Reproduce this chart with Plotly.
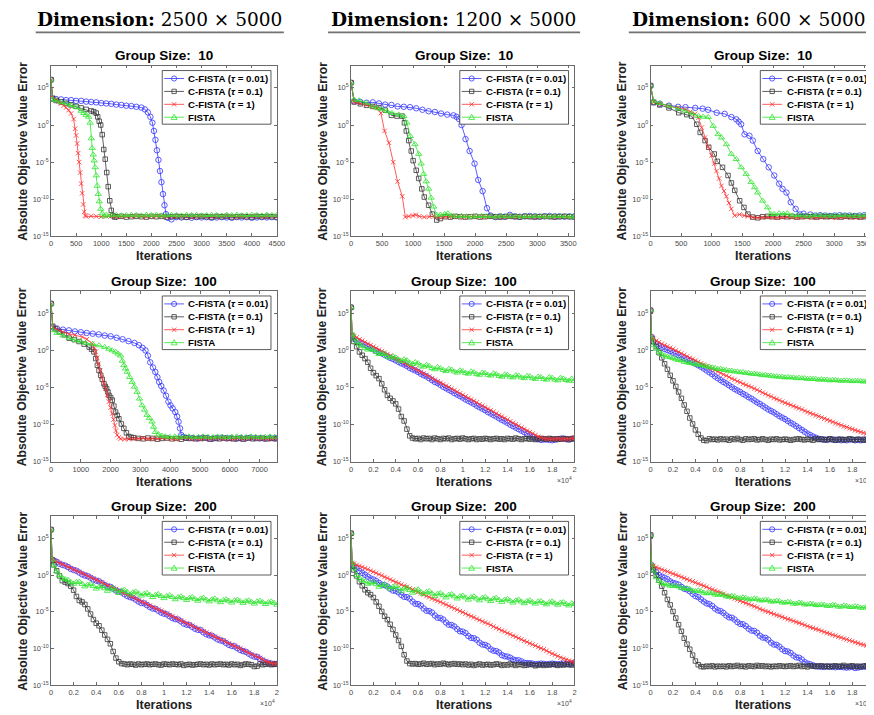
import plotly.graph_objects as go

# ---------------- data (log10 of absolute objective value error) ----------------
# shared iteration grid of the long (2e4) runs
iters_long = [0, 100,
              250, 500, 750, 1000, 1250, 1500, 1750, 2000, 2250, 2500,
              2750, 3000, 3250, 3500, 3750, 4000, 4250, 4500, 4750, 5000,
              5250, 5500, 5750, 6000, 6250, 6500, 6750, 7000, 7250, 7500,
              7750, 8000, 8250, 8500, 8750, 9000, 9250, 9500, 9750, 10000,
              10250, 10500, 10750, 11000, 11250, 11500, 11750, 12000, 12250, 12500,
              12750, 13000, 13250, 13500, 13750, 14000, 14250, 14500, 14750, 15000,
              15250, 15500, 15750, 16000, 16250, 16500, 16750, 17000, 17250, 17500,
              17750, 18000, 18250, 18500, 18750, 19000, 19250, 19500, 19750, 20000]

# ---- Dimension 2500x5000, group size 10
p11_blue_x = [0, 30, 100, 200, 300, 400, 500, 600, 700, 800, 900, 1000, 1100, 1200, 1300, 1400, 1500, 1600, 1700, 1800,
              1870, 1930, 1980, 2020, 2050, 2080, 2110, 2140, 2170, 2200, 2230, 2260, 2290, 2330,
              2400, 2500, 2600, 2700, 2800, 2900, 3000, 3100, 3200, 3300, 3400, 3500, 3600, 3700, 3800, 3900, 4000, 4100, 4200, 4300, 4400, 4500]
p11_blue_y = [6.1, 3.6, 3.5, 3.45, 3.35, 3.35, 3.25, 3.25, 3.15, 3.1, 3.05, 2.95, 2.9, 2.85, 2.75, 2.7, 2.6, 2.55, 2.45, 2.35,
              2.1, 1.7, 1.1, 0.3, -0.8, -2.0, -3.4, -4.7, -6.2, -7.7, -9.3, -10.8, -12.0, -12.5,
              -12.7, -12.4, -12.45, -12.4, -12.5, -12.4, -12.45, -12.4, -12.5, -12.45, -12.4, -12.45, -12.5, -12.4, -12.45, -12.4, -12.5, -12.45, -12.4, -12.45, -12.4, -12.45]
p11_gray_x = [0, 30, 100, 200, 300, 400, 500, 600, 700, 800, 850, 900, 930, 960, 990, 1020, 1050, 1080, 1110, 1140, 1170, 1200, 1230, 1270,
              1300, 1400, 1500, 1600, 1700, 1800, 1900, 2000, 2100, 2200, 2300, 2400, 2500, 2600, 2700, 2800, 2900, 3000, 3100, 3200, 3300,
              3400, 3500, 3600, 3700, 3800, 3900, 4000, 4100, 4200, 4300, 4400, 4500]
p11_gray_y = [6.1, 3.5, 3.3, 3.1, 2.9, 2.7, 2.5, 2.3, 2.1, 1.9, 1.8, 1.6, 1.1, 0.5, 0.0, -1.3, -3.3, -4.6, -6.4, -8.3, -10.2, -11.5, -12.2, -12.4,
              -12.35, -12.3, -12.4, -12.35, -12.3, -12.35, -12.4, -12.3, -12.35, -12.3, -12.4, -12.35, -12.3, -12.35, -12.4, -12.3, -12.35, -12.3, -12.35, -12.4, -12.3,
              -12.35, -12.3, -12.4, -12.35, -12.3, -12.35, -12.4, -12.3, -12.35, -12.3, -12.35, -12.4]
p11_red_x = [0, 30, 100, 150, 200, 250, 300, 350, 400, 450, 480, 500, 520, 540, 560, 580, 600, 620, 640, 660, 680, 700,
             800, 900, 1000, 1100, 1200, 1300, 1400, 1500, 1600, 1700, 1800, 1900, 2000, 2100, 2200, 2300, 2400, 2500, 2600,
             2700, 2800, 2900, 3000, 3100, 3200, 3300, 3400, 3500, 3600, 3700, 3800, 3900, 4000, 4100, 4200, 4300, 4400, 4500]
p11_red_y = [6.1, 3.7, 3.4, 3.15, 2.9, 2.6, 2.35, 2.0, 1.55, 0.8, -0.5, -1.4, -2.5, -3.8, -5.0, -6.4, -7.9, -9.2, -10.7, -11.7, -12.2, -12.3,
             -12.25, -12.3, -12.35, -12.3, -12.25, -12.3, -12.35, -12.3, -12.3, -12.25, -12.3, -12.35, -12.3, -12.25, -12.3,
             -12.35, -12.3, -12.3, -12.25, -12.3, -12.35, -12.3, -12.25, -12.3, -12.3, -12.35, -12.3, -12.25, -12.3, -12.35,
             -12.3, -12.3, -12.25, -12.3, -12.35, -12.3, -12.25, -12.3]
p11_green_x = [0, 30, 100, 200, 300, 400, 500, 600, 650, 700, 750, 780, 800, 820, 840, 860, 880, 900, 920, 940, 960, 990, 1020, 1060, 1100,
               1200, 1300, 1400, 1500, 1600, 1700, 1800, 1900, 2000, 2100, 2200, 2300, 2400, 2500, 2600, 2700, 2800, 2900, 3000,
               3100, 3200, 3300, 3400, 3500, 3600, 3700, 3800, 3900, 4000, 4100, 4200, 4300, 4400, 4500]
p11_green_y = [6.1, 3.4, 3.3, 3.1, 2.9, 2.65, 2.4, 1.9, 1.6, 1.35, 1.1, 0.3, -1.8, -3.1, -4.0, -4.8, -5.7, -6.8, -8.2, -9.3, -10.3, -11.3, -11.9, -12.3, -12.1,
               -12.15, -12.1, -12.2, -12.15, -12.1, -12.15, -12.2, -12.1, -12.15, -12.1, -12.2, -12.15, -12.1, -12.15, -12.2,
               -12.1, -12.15, -12.1, -12.2, -12.15, -12.1, -12.15, -12.2, -12.1, -12.15, -12.1, -12.2, -12.15, -12.1, -12.15,
               -12.2, -12.1, -12.15, -12.1]

# ---- Dimension 1200x5000, group size 10
p12_blue_x = [0, 50, 150, 250, 350, 450, 550, 650, 750, 850, 950, 1050, 1150, 1250, 1350, 1450, 1550, 1650,
              1700, 1740, 1780, 1845, 1910, 1990, 2050, 2120, 2190, 2250, 2330,
              2400, 2480, 2560, 2640, 2720, 2800, 2880, 2960, 3040, 3120, 3200, 3280, 3360, 3440, 3520, 3600]
p12_blue_y = [5.7, 3.2, 3.1, 3.0, 3.05, 2.9, 2.75, 2.7, 2.5, 2.45, 2.4, 2.25, 2.05, 1.85, 1.75, 1.55, 1.4, 1.3,
              1.1, 0.8, 0.0, -1.9, -3.5, -5.2, -7.4, -8.9, -11.2, -12.2, -12.4,
              -12.3, -12.35, -12.1, -12.3, -12.35, -12.3, -12.25, -12.3, -12.35, -12.3, -12.25, -12.3, -12.3, -12.35, -12.3, -12.3]
p12_gray_x = [0, 50, 150, 250, 350, 450, 550, 650, 740, 820, 860, 890, 930, 970, 1000, 1050, 1090, 1140, 1180, 1250, 1310, 1380,
              1440, 1520, 1600, 1680, 1760, 1840, 1920, 2000, 2080, 2160, 2240, 2320, 2400, 2480, 2560, 2640, 2720, 2800,
              2880, 2960, 3040, 3120, 3200, 3280, 3360, 3440, 3520, 3600]
p12_gray_y = [5.7, 3.1, 2.85, 2.65, 2.5, 2.35, 2.0, 1.3, 1.2, 1.2, 0.3, -0.8, -2.1, -3.5, -4.8, -6.1, -7.2, -8.6, -9.7, -10.8, -12.0, -12.8,
              -12.6, -12.35, -12.4, -12.3, -12.35, -12.4, -12.35, -12.3, -12.4, -12.35, -12.3, -12.35, -12.4, -12.35, -12.3, -12.35, -12.4, -12.3,
              -12.35, -12.4, -12.35, -12.3, -12.35, -12.4, -12.35, -12.3, -12.35, -12.4]
p12_red_x = [0, 50, 150, 250, 350, 420, 480, 540, 610, 680, 750, 825, 875, 930, 1000, 1040, 1100, 1180,
             1260, 1340, 1420, 1500, 1580, 1660, 1740, 1820, 1900, 1980, 2060, 2140, 2220, 2300, 2380, 2460, 2540, 2620,
             2700, 2780, 2860, 2940, 3020, 3100, 3180, 3260, 3340, 3420, 3500, 3580]
p12_red_y = [5.7, 3.1, 2.9, 2.7, 2.5, 2.3, 1.6, -0.8, -2.4, -5.0, -7.6, -9.6, -12.4, -12.3, -12.2, -12.1, -12.3, -12.4,
             -12.35, -12.3, -12.4, -12.35, -12.4, -12.3, -12.35, -12.4, -12.35, -12.3, -12.4, -12.35, -12.3, -12.35, -12.4, -12.35, -12.3, -12.4,
             -12.35, -12.3, -12.35, -12.4, -12.35, -12.3, -12.35, -12.4, -12.35, -12.3, -12.35, -12.4]
p12_green_x = [0, 50, 130, 240, 345, 420, 500, 580, 660, 770, 850, 900, 955, 1030, 1090, 1130, 1170, 1210, 1250, 1290, 1330, 1380, 1440, 1510, 1560, 1620,
               1700, 1780, 1860, 1940, 2020, 2100, 2180, 2260, 2340, 2420, 2500, 2580, 2660, 2740, 2820, 2900, 2980, 3060, 3140, 3220,
               3300, 3380, 3460, 3540, 3600]
p12_green_y = [5.7, 3.4, 3.3, 3.0, 2.5, 2.3, 2.1, 1.85, 1.6, 1.4, 1.2, 0.3, -1.5, -2.6, -3.9, -5.2, -6.6, -7.6, -8.6, -9.8, -11.0, -12.1, -12.1, -12.0, -11.9, -12.2,
               -12.3, -12.25, -12.3, -12.35, -12.3, -12.25, -12.3, -12.3, -12.35, -12.25, -12.3, -12.3, -12.25, -12.35, -12.3, -12.3, -12.25, -12.3, -12.35, -12.3,
               -12.25, -12.3, -12.3, -12.35, -12.3]

# ---- Dimension 600x5000, group size 10
p13_blue_x = [0, 50, 150, 300, 450, 570, 730, 850, 940, 1080, 1210, 1320, 1400, 1440, 1480, 1535, 1615, 1670, 1750, 1840,
              1930, 2020, 2100, 2155, 2220, 2290, 2370, 2440, 2500, 2610,
              2690, 2770, 2850, 2930, 3010, 3090, 3170, 3250, 3330, 3410, 3490, 3570, 3650]
p13_blue_y = [5.3, 3.1, 2.85, 2.6, 2.45, 2.4, 2.3, 2.2, 2.05, 1.65, 1.5, 1.07, 0.76, 0.45, 0.1, -1.25, -1.45, -2.1, -3.5, -4.6,
              -5.7, -6.8, -7.9, -8.6, -9.1, -10.4, -11.3, -12.05, -11.95, -12.05,
              -12.2, -12.15, -12.2, -12.25, -12.2, -12.15, -12.2, -12.2, -12.25, -12.2, -12.15, -12.2, -12.2]
p13_gray_x = [0, 50, 150, 300, 460, 590, 670, 755, 810, 890, 950, 1040, 1090, 1175, 1265, 1320, 1375, 1455, 1525, 1590, 1670,
              1750, 1830, 1910, 1990, 2070, 2150, 2230, 2310, 2390, 2470, 2550, 2630, 2710, 2790, 2870, 2950, 3030, 3110, 3190, 3270,
              3350, 3430, 3510, 3590, 3650]
p13_gray_y = [5.3, 3.0, 2.7, 2.3, 1.65, 1.4, 1.2, 0.1, -1.0, -2.1, -3.0, -3.9, -4.9, -5.7, -6.8, -7.8, -8.8, -10.2, -11.1, -12.0, -12.4,
              -12.5, -12.35, -12.3, -12.35, -12.4, -12.3, -12.35, -12.3, -12.4, -12.35, -12.3, -12.35, -12.4, -12.3, -12.35, -12.3, -12.35, -12.4, -12.3, -12.35,
              -12.3, -12.4, -12.35, -12.3, -12.35]
p13_red_x = [0, 50, 150, 300, 450, 565, 650, 727, 781, 835, 888, 942, 996, 1040, 1077, 1120, 1158, 1200, 1239, 1280, 1319, 1373, 1454, 1530, 1590,
             1670, 1750, 1830, 1910, 1990, 2070, 2150, 2230, 2310, 2390, 2470, 2550, 2630, 2710, 2790, 2870, 2950, 3030, 3110, 3190,
             3270, 3350, 3430, 3510, 3590, 3650]
p13_red_y = [5.3, 3.1, 2.85, 2.6, 2.35, 2.1, 1.8, 1.5, 1.0, -0.35, -1.7, -2.95, -4.1, -5.2, -6.2, -7.2, -8.2, -8.9, -9.6, -10.5, -11.3, -12.2, -12.05, -12.2, -12.3,
             -12.45, -12.5, -12.45, -12.4, -12.45, -12.5, -12.45, -12.4, -12.45, -12.5, -12.45, -12.4, -12.45, -12.5, -12.45,
             -12.4, -12.45, -12.5, -12.45, -12.4, -12.45, -12.5, -12.45, -12.4, -12.45, -12.5]
p13_green_x = [0, 50, 150, 300, 450, 565, 680, 780, 860, 942, 1023, 1104, 1158, 1239, 1319, 1400, 1481, 1562, 1642, 1700,
               1750, 1831, 1912, 1966, 2019, 2100, 2170, 2235,
               2315, 2395, 2475, 2555, 2635, 2715, 2795, 2875, 2955, 3035, 3115, 3195, 3275, 3355, 3435, 3515, 3595, 3650]
p13_green_y = [5.3, 3.2, 2.95, 2.6, 2.2, 1.9, 1.55, 1.2, 1.1, 1.07, -0.13, -1.25, -1.7, -2.6, -3.9, -4.6, -5.7, -6.6, -7.7, -8.4,
               -9.1, -10.2, -11.1, -12.0, -12.0, -11.9, -11.95, -11.9,
               -12.2, -12.15, -12.2, -12.25, -12.2, -12.15, -12.2, -12.2, -12.25, -12.2, -12.15, -12.2, -12.2, -12.25, -12.2, -12.15, -12.2, -12.2]

# ---- Dimension 2500x5000, group size 100
p21_blue_x = [0, 60, 200, 400, 600, 800, 1000, 1200, 1400, 1600, 1800, 2000, 2200, 2400, 2600, 2800,
              2950, 3070, 3170, 3250, 3330, 3420, 3500, 3570, 3630, 3700, 3780, 3860, 3940, 4010, 4080, 4170, 4230,
              4280, 4330, 4370, 4440, 4520, 4610,
              4770, 4930, 5090, 5250, 5410, 5570, 5730, 5890, 6050, 6210, 6370, 6530, 6690, 6850, 7010, 7170, 7330, 7490, 7580]
p21_blue_y = [6.3, 3.1, 2.95, 2.8, 2.7, 2.55, 2.45, 2.35, 2.25, 2.15, 2.0, 1.9, 1.7, 1.5, 1.25, 1.0,
              0.7, 0.35, 0.0, -0.7, -1.6, -2.3, -2.9, -3.6, -4.25, -4.8, -5.4, -6.1, -6.9, -7.4, -7.8, -8.3, -8.9,
              -9.6, -10.5, -11.4, -11.65, -11.75, -11.8,
              -11.8, -11.85, -11.75, -11.8, -11.9, -11.8, -11.75, -11.85, -11.8, -11.9, -11.8, -11.85, -11.75, -11.8, -11.85, -11.9, -11.8, -11.85, -11.8]
p21_gray_x = [0, 60, 150, 280, 450, 610, 780, 940, 1110, 1280, 1360, 1440, 1500, 1555, 1610, 1666, 1720, 1778, 1820, 1866,
              1910, 1944, 2000, 2055, 2110, 2166, 2220, 2278, 2360, 2444, 2530, 2611, 2690, 2777,
              2930, 3090, 3250, 3410, 3570, 3730, 3890, 4050, 4210, 4370, 4530, 4690, 4850, 5010, 5170, 5330, 5490, 5650,
              5810, 5970, 6130, 6290, 6450, 6610, 6770, 6930, 7090, 7250, 7410, 7570]
p21_gray_y = [6.3, 3.25, 2.9, 2.5, 2.1, 1.65, 1.45, 1.2, 0.85, 0.45, 0.15, -0.2, -1.1, -2.0, -2.7, -3.35, -3.9, -4.5, -4.85, -5.15,
              -5.6, -6.05, -6.35, -6.7, -7.5, -8.3, -8.75, -9.2, -9.9, -10.5, -11.1, -11.6, -11.7, -11.75,
              -11.85, -11.9, -11.8, -11.85, -11.95, -11.85, -11.8, -11.9, -11.85, -11.95, -11.8, -11.85, -11.9, -11.85, -11.8,
              -11.95, -11.85, -11.9, -11.8, -11.85, -11.9, -11.85, -11.95, -11.8, -11.9, -11.85, -11.8, -11.9, -11.85, -11.9]
p21_red_x = [0, 60, 200, 400, 611, 800, 1055, 1200, 1389, 1450, 1500, 1545, 1589, 1645, 1700, 1770, 1833, 1890, 1944, 2000,
             2055, 2100, 2144, 2180, 2222, 2280, 2333, 2470, 2611,
             2770, 2930, 3090, 3250, 3410, 3570, 3730, 3890, 4050, 4210, 4370, 4530, 4690, 4850, 5010, 5170, 5330, 5490, 5650,
             5810, 5970, 6130, 6290, 6450, 6610, 6770, 6930, 7090, 7250, 7410, 7570]
p21_red_y = [6.3, 3.1, 2.8, 2.5, 2.2, 2.05, 1.8, 1.5, 0.9, 0.4, -0.2, -1.0, -1.8, -2.7, -3.6, -4.4, -5.15, -6.0, -6.9, -7.7,
             -8.5, -9.3, -10.1, -10.8, -11.4, -11.7, -11.9, -11.95, -11.95,
             -11.85, -11.9, -11.8, -11.95, -11.85, -11.9, -11.8, -11.85, -11.9, -11.95, -11.85, -11.8, -11.9, -11.85, -11.95, -11.8,
             -11.9, -11.85, -11.8, -11.9, -11.85, -11.95, -11.8, -11.9, -11.85, -11.8, -11.9, -11.85, -11.95, -11.85, -11.9]
p21_green_x = [0, 60, 200, 400, 611, 800, 1000, 1166, 1400, 1611, 1800, 1944, 2050, 2166, 2250, 2333, 2390, 2444, 2500, 2555,
               2640, 2722, 2800, 2889, 2970, 3055, 3140, 3222, 3300, 3389, 3440, 3500, 3611, 3720, 3833,
               3990, 4150, 4310, 4470, 4630, 4790, 4950, 5110, 5270, 5430, 5590, 5750, 5910, 6070, 6230, 6390, 6550, 6710,
               6870, 7030, 7190, 7350, 7510]
p21_green_y = [6.3, 2.7, 2.35, 2.0, 1.65, 1.4, 1.2, 1.0, 0.85, 0.67, 0.45, 0.2, 0.0, -0.2, -0.45, -0.7, -1.4, -2.0, -2.45, -2.9,
               -3.6, -4.25, -4.9, -5.6, -6.5, -7.4, -8.0, -8.7, -9.1, -9.6, -10.3, -11.0, -11.3, -11.5, -11.6,
               -11.65, -11.6, -11.7, -11.65, -11.6, -11.7, -11.65, -11.6, -11.65, -11.7, -11.6, -11.65, -11.7, -11.65, -11.6,
               -11.65, -11.7, -11.6, -11.65, -11.7, -11.65, -11.6, -11.65]

# ---- Dimension 1200x5000, group size 100 (all on iters_long)
p22_blue = [5.8, 2.0,
            1.6, 1.3, 1.1, 0.9, 0.7, 0.55, 0.3, 0.15, -0.05, -0.25,
            -0.4, -0.6, -0.8, -1.0, -1.15, -1.35, -1.55, -1.75, -1.9, -2.1,
            -2.35, -2.55, -2.7, -2.9, -3.15, -3.35, -3.5, -3.75, -4.0, -4.25,
            -4.4, -4.65, -4.9, -5.1, -5.3, -5.5, -5.75, -5.95, -6.15, -6.35,
            -6.6, -6.8, -7.0, -7.2, -7.45, -7.65, -7.85, -8.05, -8.3, -8.5,
            -8.7, -8.9, -9.15, -9.35, -9.55, -9.75, -10.0, -10.2, -10.4, -10.6,
            -10.8, -11.0, -11.25, -11.45, -11.65, -11.85, -11.95, -12.05, -12.0, -12.0,
            -12.05, -12.1, -12.0, -11.95, -11.9, -11.9, -11.95, -12.0, -11.9, -11.85]
p22_gray = [5.8, 1.8,
            1.2, 0.5, -0.2, -0.65, -1.1, -1.6, -2.4, -3.0, -3.4, -3.8,
            -4.5, -5.3, -6.05, -6.45, -6.8, -7.2, -7.9, -8.9, -9.5, -10.6,
            -11.5, -11.8, -11.9, -11.85, -12.0, -11.8, -11.9, -11.85, -12.0, -11.8,
            -11.9, -12.0, -11.85, -11.9, -11.8, -12.0, -11.9, -11.85, -11.95, -11.8,
            -11.9, -12.0, -11.9, -11.85, -12.0, -11.9, -11.95, -11.85, -11.9, -12.0,
            -11.9, -11.85, -11.95, -11.9, -12.0, -11.85, -11.9, -11.95, -11.8, -11.9,
            -12.0, -11.9, -11.85, -11.95, -11.9, -12.0, -11.9, -11.85, -11.9, -11.95,
            -11.85, -11.9, -12.0, -11.9, -11.95, -11.85, -11.9, -12.0, -11.9, -11.85]
p22_red = [5.8, 2.1,
           1.95, 1.75, 1.5, 1.3, 1.1, 0.9, 0.7, 0.5, 0.3, 0.1,
           -0.1, -0.3, -0.5, -0.7, -0.9, -1.1, -1.3, -1.5, -1.7, -1.9,
           -2.1, -2.3, -2.5, -2.7, -2.9, -3.1, -3.3, -3.5, -3.75, -3.95,
           -4.15, -4.35, -4.55, -4.75, -4.95, -5.15, -5.35, -5.55, -5.8, -6.0,
           -6.2, -6.4, -6.6, -6.8, -7.0, -7.25, -7.45, -7.65, -7.85, -8.05,
           -8.25, -8.5, -8.7, -8.9, -9.1, -9.3, -9.55, -9.75, -9.95, -10.15,
           -10.4, -10.6, -10.8, -11.0, -11.2, -11.4, -11.6, -11.75, -11.85, -11.9,
           -11.95, -11.95, -11.9, -11.9, -11.95, -12.0, -11.95, -11.9, -11.85, -11.8]
p22_green = [5.8, 2.2,
             1.6, 1.1, 0.8, 0.6, 0.3, 0.1, 0.2, 0.05, -0.25, -0.5,
             -0.35, -0.5, -0.8, -1.0, -0.8, -0.95, -1.25, -1.45, -1.2, -1.35,
             -1.65, -1.85, -1.6, -1.75, -2.05, -2.2, -1.95, -2.1, -2.4, -2.55,
             -2.25, -2.4, -2.65, -2.8, -2.5, -2.6, -2.85, -3.0, -2.7, -2.8,
             -3.05, -3.15, -2.85, -2.95, -3.2, -3.3, -3.0, -3.05, -3.3, -3.4,
             -3.1, -3.2, -3.45, -3.55, -3.25, -3.3, -3.55, -3.65, -3.35, -3.4,
             -3.65, -3.75, -3.45, -3.5, -3.75, -3.85, -3.55, -3.6, -3.85, -3.95,
             -3.6, -3.7, -3.95, -4.05, -3.7, -3.8, -4.0, -4.1, -3.8, -4.1]

# ---- Dimension 600x5000, group size 100
p23_blue = [5.4, 1.8,
            1.2, 0.85, 0.6, 0.4, 0.2, 0.05, -0.1, -0.3, -0.45, -0.65,
            -0.85, -1.05, -1.2, -1.4, -1.6, -1.8, -2.0, -2.2, -2.45, -2.7,
            -2.95, -3.2, -3.5, -3.75, -4.0, -4.25, -4.45, -4.7, -4.95, -5.2,
            -5.4, -5.6, -5.85, -6.05, -6.3, -6.5, -6.75, -7.0, -7.2, -7.45,
            -7.7, -7.95, -8.15, -8.35, -8.6, -8.85, -9.05, -9.25, -9.5, -9.75,
            -9.95, -10.2, -10.45, -10.7, -10.95, -11.2, -11.4, -11.6, -11.75, -11.9,
            -11.95, -12.0, -12.05, -11.95, -12.0, -12.05, -12.0, -12.1, -12.05, -12.1,
            -12.0, -12.0, -12.1, -12.05, -12.1, -12.0, -12.0, -12.05, -12.1, -12.0]
p23_gray = [5.4, 1.6,
            1.2, 0.5, -0.3, -1.0, -1.8, -2.55, -3.35, -4.1, -4.85, -5.6,
            -6.45, -7.35, -8.2, -9.1, -9.9, -10.7, -11.3, -11.8, -12.1, -12.15,
            -11.9, -12.0, -11.95, -12.05, -11.9, -12.0, -11.95, -12.1, -11.9, -12.0,
            -11.85, -12.0, -12.1, -11.9, -12.0, -11.95, -11.9, -12.05, -12.0, -11.9,
            -12.0, -12.1, -11.95, -12.0, -11.9, -12.05, -12.0, -11.95, -12.0, -12.1,
            -12.0, -11.95, -11.9, -12.0, -12.05, -11.95, -12.0, -12.1, -11.9, -12.0,
            -11.95, -12.05, -12.0, -11.9, -12.0, -12.1, -12.0, -11.95, -12.05, -12.0,
            -11.9, -12.0, -12.05, -11.95, -12.0, -12.1, -12.0, -11.95, -12.0, -12.05]
p23_red = [5.4, 1.8,
           1.55, 1.3, 1.1, 0.9, 0.7, 0.55, 0.35, 0.2, 0.0, -0.2,
           -0.4, -0.6, -0.8, -1.0, -1.15, -1.35, -1.55, -1.75, -1.9, -2.1,
           -2.3, -2.5, -2.65, -2.85, -3.05, -3.25, -3.4, -3.6, -3.8, -3.95,
           -4.15, -4.3, -4.5, -4.65, -4.8, -4.95, -5.15, -5.3, -5.5, -5.7,
           -5.85, -6.05, -6.2, -6.4, -6.55, -6.7, -6.9, -7.05, -7.2, -7.35,
           -7.5, -7.65, -7.8, -7.95, -8.15, -8.3, -8.45, -8.6, -8.75, -8.9,
           -9.05, -9.2, -9.35, -9.5, -9.65, -9.8, -9.95, -10.1, -10.25, -10.35,
           -10.5, -10.6, -10.75, -10.85, -11.0, -11.1, -11.2, -11.3, -11.4, -11.5]
p23_green = [5.4, 1.6,
             0.7, 0.2, -0.2, -0.5, -0.7, -0.85, -0.9, -1.05, -1.2, -1.3,
             -1.35, -1.55, -1.6, -1.7, -1.75, -1.85, -1.9, -2.0, -2.05, -2.15,
             -2.2, -2.3, -2.35, -2.5, -2.5, -2.6, -2.65, -2.75, -2.75, -2.85,
             -2.85, -2.95, -2.95, -3.05, -3.05, -3.15, -3.15, -3.2, -3.25, -3.35,
             -3.3, -3.4, -3.4, -3.5, -3.5, -3.55, -3.55, -3.65, -3.6, -3.65,
             -3.65, -3.75, -3.7, -3.75, -3.75, -3.85, -3.8, -3.85, -3.85, -3.95,
             -3.9, -3.95, -3.95, -4.05, -4.0, -4.0, -4.05, -4.1, -4.05, -4.05,
             -4.1, -4.15, -4.1, -4.1, -4.15, -4.2, -4.15, -4.15, -4.2, -4.25]

# ---- Dimension 2500x5000, group size 200
p31_blue = [6.2, 2.1,
            2.0, 1.8, 1.55, 1.4, 1.3, 1.1, 0.85, 0.7, 0.6, 0.35,
            0.1, -0.05, -0.15, -0.35, -0.6, -0.75, -0.85, -1.1, -1.35, -1.55,
            -1.6, -1.85, -2.1, -2.25, -2.35, -2.6, -2.85, -3.0, -3.1, -3.35,
            -3.6, -3.8, -3.85, -4.1, -4.35, -4.55, -4.6, -4.85, -5.1, -5.25,
            -5.35, -5.6, -5.85, -6.0, -6.05, -6.3, -6.6, -6.75, -6.8, -7.05,
            -7.3, -7.45, -7.5, -7.8, -8.05, -8.2, -8.25, -8.5, -8.75, -8.9,
            -9.0, -9.25, -9.5, -9.65, -9.7, -9.95, -10.2, -10.35, -10.45, -10.7,
            -10.95, -11.1, -11.15, -11.4, -11.65, -11.85, -11.95, -12.05, -12.1, -12.1]
p31_gray = [6.2, 2.0,
            1.4, 0.6, -0.1, -0.75, -0.95, -1.15, -1.5, -2.05, -2.9, -3.45,
            -3.65, -4.0, -4.6, -5.3, -6.05, -6.55, -6.9, -7.5, -8.15, -8.75,
            -9.35, -10.4, -11.3, -11.8, -12.05, -12.1, -12.2, -12.1, -12.15, -12.25,
            -12.1, -12.2, -12.15, -12.1, -12.2, -12.15, -12.1, -12.2, -12.25, -12.1,
            -12.15, -12.2, -12.1, -12.15, -12.2, -12.1, -12.3, -12.2, -12.15, -12.25,
            -12.2, -12.15, -12.1, -12.2, -12.15, -12.25, -12.1, -12.2, -12.15, -12.1,
            -12.2, -12.15, -12.25, -12.1, -12.2, -12.15, -12.3, -12.2, -12.1, -12.15,
            -12.2, -12.45, -12.4, -12.1, -12.2, -12.15, -12.1, -12.2, -12.15, -12.1]
p31_red = [6.2, 2.15,
           2.0, 1.85, 1.65, 1.5, 1.3, 1.15, 0.95, 0.8, 0.6, 0.45,
           0.25, 0.1, -0.1, -0.3, -0.45, -0.65, -0.8, -1.0, -1.2, -1.4,
           -1.55, -1.75, -1.9, -2.1, -2.3, -2.5, -2.65, -2.85, -3.0, -3.2,
           -3.4, -3.6, -3.75, -3.95, -4.15, -4.35, -4.5, -4.7, -4.85, -5.05,
           -5.25, -5.45, -5.6, -5.8, -6.0, -6.2, -6.35, -6.55, -6.7, -6.9,
           -7.1, -7.3, -7.45, -7.65, -7.8, -8.0, -8.2, -8.4, -8.55, -8.75,
           -8.9, -9.1, -9.3, -9.5, -9.65, -9.85, -10.0, -10.2, -10.4, -10.6,
           -10.75, -10.95, -11.1, -11.3, -11.5, -11.7, -11.85, -12.0, -12.05, -12.05]
p31_green = [6.2, 2.1,
             1.3, 0.5, 0.0, -0.35, -0.55, -0.65, -0.95, -1.2, -0.95, -0.9,
             -1.2, -1.55, -1.3, -1.2, -1.5, -1.85, -1.6, -1.5, -1.8, -2.15,
             -1.85, -1.75, -2.1, -2.45, -2.1, -2.0, -2.3, -2.65, -2.35, -2.25,
             -2.5, -2.8, -2.55, -2.45, -2.7, -3.0, -2.7, -2.6, -2.85, -3.15,
             -2.85, -2.75, -3.0, -3.3, -3.0, -2.9, -3.15, -3.4, -3.1, -3.0,
             -3.25, -3.5, -3.2, -3.1, -3.35, -3.6, -3.3, -3.2, -3.45, -3.7,
             -3.4, -3.3, -3.5, -3.75, -3.45, -3.35, -3.55, -3.8, -3.55, -3.45,
             -3.65, -3.9, -3.6, -3.5, -3.7, -3.95, -3.7, -3.6, -3.8, -4.05]

# ---- Dimension 1200x5000, group size 200
p32_blue = [5.7, 1.45,
            1.2, 0.9, 0.55, 0.3, 0.05, -0.2, -0.45, -0.6, -0.8, -1.05,
            -1.3, -1.35, -1.55, -1.85, -2.1, -2.15, -2.35, -2.7, -2.95, -3.0,
            -3.2, -3.6, -3.9, -3.95, -4.15, -4.55, -4.85, -4.9, -5.1, -5.5,
            -5.8, -5.85, -6.05, -6.45, -6.75, -6.8, -7.0, -7.35, -7.65, -7.7,
            -7.9, -8.3, -8.55, -8.6, -8.8, -9.2, -9.45, -9.5, -9.7, -10.1,
            -10.3, -10.35, -10.55, -10.9, -11.05, -11.1, -11.25, -11.5, -11.6, -11.6,
            -11.75, -11.95, -12.0, -12.0, -12.05, -12.15, -12.1, -12.05, -12.1, -12.15,
            -12.1, -12.05, -12.1, -12.15, -12.1, -12.05, -12.1, -12.1, -12.05, -12.0]
p32_gray = [5.7, 1.2,
            0.7, -0.1, -0.9, -1.45, -2.0, -2.4, -2.65, -3.05, -3.65, -4.25,
            -4.95, -5.6, -6.05, -6.7, -7.4, -8.15, -8.9, -9.7, -10.85, -11.7,
            -12.05, -12.1, -12.05, -12.15, -12.1, -12.0, -12.15, -12.1, -12.05, -12.2,
            -12.1, -12.15, -12.0, -12.1, -12.2, -12.1, -12.05, -12.15, -12.1, -12.2,
            -12.1, -12.25, -12.15, -12.3, -12.2, -12.1, -12.25, -12.2, -12.15, -12.25,
            -12.2, -12.1, -12.15, -12.3, -12.2, -12.25, -12.1, -12.2, -12.3, -12.15,
            -12.2, -12.3, -12.25, -12.15, -12.2, -12.35, -12.25, -12.2, -12.3, -12.2,
            -12.25, -12.15, -12.2, -12.3, -12.2, -12.25, -12.15, -12.2, -12.25, -12.1]
p32_red = [5.7, 1.65,
           1.55, 1.4, 1.25, 1.1, 0.95, 0.8, 0.6, 0.45, 0.3, 0.1,
           -0.05, -0.25, -0.4, -0.6, -0.75, -0.95, -1.1, -1.3, -1.45, -1.6,
           -1.8, -1.95, -2.15, -2.3, -2.5, -2.65, -2.85, -3.0, -3.2, -3.35,
           -3.5, -3.65, -3.85, -4.0, -4.2, -4.35, -4.55, -4.7, -4.9, -5.05,
           -5.25, -5.45, -5.6, -5.75, -5.95, -6.1, -6.3, -6.45, -6.6, -6.8,
           -7.0, -7.2, -7.35, -7.55, -7.7, -7.9, -8.05, -8.25, -8.4, -8.6,
           -8.75, -8.95, -9.1, -9.3, -9.45, -9.6, -9.8, -9.95, -10.1, -10.3,
           -10.5, -10.7, -10.85, -11.05, -11.25, -11.4, -11.55, -11.65, -11.75, -11.85]
p32_green = [5.7, 1.65,
             0.9, 0.0, -0.4, -0.7, -0.85, -1.2, -1.05, -0.95, -1.25, -1.6,
             -1.35, -1.25, -1.55, -1.85, -1.6, -1.5, -1.8, -2.15, -1.85, -1.7,
             -2.05, -2.4, -2.1, -1.95, -2.3, -2.6, -2.3, -2.2, -2.5, -2.85,
             -2.55, -2.45, -2.75, -3.05, -2.7, -2.6, -2.9, -3.2, -2.9, -2.8,
             -3.05, -3.35, -3.0, -2.9, -3.2, -3.45, -3.1, -3.0, -3.3, -3.55,
             -3.2, -3.1, -3.4, -3.65, -3.35, -3.25, -3.5, -3.75, -3.45, -3.35,
             -3.6, -3.85, -3.55, -3.45, -3.7, -3.9, -3.6, -3.55, -3.8, -4.0,
             -3.7, -3.6, -3.85, -4.05, -3.75, -3.7, -3.95, -4.15, -3.85, -3.95]

# ---- Dimension 600x5000, group size 200
p33_blue = [5.45, 1.35,
            0.85, 0.4, 0.0, -0.2, -0.35, -0.55, -0.85, -1.05, -1.15, -1.3,
            -1.6, -1.85, -1.95, -2.2, -2.55, -2.85, -3.0, -3.3, -3.6, -3.85,
            -3.95, -4.2, -4.55, -4.8, -4.9, -5.15, -5.5, -5.75, -5.8, -6.05,
            -6.4, -6.65, -6.7, -6.95, -7.3, -7.55, -7.6, -7.85, -8.25, -8.5,
            -8.55, -8.8, -9.2, -9.45, -9.5, -9.75, -10.1, -10.35, -10.4, -10.6,
            -10.95, -11.2, -11.25, -11.5, -11.85, -12.05, -12.15, -12.3, -12.4, -12.45,
            -12.5, -12.5, -12.45, -12.45, -12.5, -12.55, -12.5, -12.5, -12.55, -12.6,
            -12.55, -12.5, -12.65, -12.6, -12.5, -12.45, -12.5, -12.55, -12.5, -12.5]
p33_gray = [5.45, 1.1,
            0.7, 0.0, -0.7, -1.5, -2.4, -3.3, -4.05, -4.95, -5.85, -6.75,
            -7.65, -8.6, -9.4, -10.1, -10.9, -11.7, -12.2, -12.45, -12.5, -12.4,
            -12.45, -12.35, -12.5, -12.4, -12.45, -12.4, -12.5, -12.35, -12.45, -12.4,
            -12.3, -12.45, -12.4, -12.5, -12.35, -12.4, -12.45, -12.3, -12.4, -12.35,
            -12.45, -12.4, -12.5, -12.4, -12.45, -12.35, -12.4, -12.45, -12.4, -12.35,
            -12.45, -12.4, -12.3, -12.45, -12.4, -12.5, -12.35, -12.4, -12.45, -12.4,
            -12.35, -12.45, -12.4, -12.5, -12.4, -12.35, -12.45, -12.4, -12.3, -12.45,
            -12.4, -12.35, -12.45, -12.4, -12.5, -12.4, -12.35, -12.45, -12.4, -12.4]
p33_red = [5.45, 1.35,
           1.25, 1.1, 0.9, 0.75, 0.6, 0.5, 0.35, 0.2, 0.05, -0.1,
           -0.25, -0.4, -0.55, -0.7, -0.85, -1.0, -1.15, -1.3, -1.45, -1.6,
           -1.8, -1.95, -2.1, -2.25, -2.4, -2.55, -2.75, -2.9, -3.05, -3.2,
           -3.35, -3.5, -3.65, -3.8, -3.95, -4.1, -4.25, -4.4, -4.6, -4.75,
           -4.9, -5.0, -5.15, -5.3, -5.45, -5.55, -5.7, -5.85, -6.0, -6.1,
           -6.25, -6.4, -6.5, -6.65, -6.8, -6.95, -7.1, -7.2, -7.35, -7.45,
           -7.6, -7.75, -7.9, -8.0, -8.15, -8.25, -8.4, -8.5, -8.65, -8.75,
           -8.9, -9.0, -9.15, -9.25, -9.4, -9.5, -9.6, -9.7, -9.85, -9.95]
p33_green = [5.45, 1.35,
             0.6, -0.3, -0.8, -1.1, -1.2, -1.3, -1.45, -1.5, -1.45, -1.55,
             -1.75, -1.85, -1.8, -1.9, -2.1, -2.2, -2.1, -2.2, -2.4, -2.5,
             -2.4, -2.45, -2.65, -2.7, -2.6, -2.7, -2.9, -2.95, -2.85, -2.9,
             -3.1, -3.15, -3.05, -3.1, -3.3, -3.3, -3.2, -3.25, -3.45, -3.45,
             -3.35, -3.4, -3.6, -3.6, -3.5, -3.55, -3.75, -3.75, -3.65, -3.7,
             -3.9, -3.9, -3.75, -3.8, -4.0, -4.0, -3.9, -3.95, -4.1, -4.1,
             -4.0, -4.05, -4.2, -4.2, -4.05, -4.1, -4.3, -4.3, -4.15, -4.2,
             -4.35, -4.35, -4.25, -4.3, -4.45, -4.45, -4.3, -4.35, -4.5, -4.55]

series_names = ["<b>C-FISTA (<i>τ</i> = 0.01)</b>", "<b>C-FISTA (<i>τ</i> = 0.1)</b>",
                "<b>C-FISTA (<i>τ</i> = 1)</b>", "<b>FISTA</b>"]
dimension_labels = ["2500 × 5000", "1200 × 5000", "600 × 5000"]
group_sizes = ["10", "100", "200"]
x_ranges = [[0, 4500], [0, 3600], [0, 3650],
            [0, 7580], [0, 20000], [0, 19940],
            [0, 20000], [0, 20000], [0, 19940]]
y_tick_vals = [1e-15, 1e-10, 1e-5, 1, 1e5]
y_tick_text = ["10<sup>-15</sup>", "10<sup>-10</sup>", "10<sup>-5</sup>", "10<sup>0</sup>", "10<sup>5</sup>"]
long_tick_vals = [0, 2000, 4000, 6000, 8000, 10000, 12000, 14000, 16000, 18000, 20000]
long_tick_text = ["0", "0.2", "0.4", "0.6", "0.8", "1", "1.2", "1.4", "1.6", "1.8", "2"]

# ---------------- styling ----------------
W, H = 874, 715
FONT = "Liberation Sans, Arial, sans-serif"
COLORS = ["#3434ff", "#363636", "#ff3030", "#2ee52e"]
SYMBOLS = ["circle-open", "square-open", "x-thin-open", "triangle-up-open"]
SIZES = [5.5, 4.5, 4.5, 5.5]


def fx(p):
    return p / W


def fy(p):
    return 1 - p / H


COL_X = [(41.5, 270), (345, 571), (648, 874)]
ROW_Y = [(58, 230), (285, 457), (512, 682)]

panels = [
    [(p11_blue_x, p11_blue_y), (p11_gray_x, p11_gray_y), (p11_red_x, p11_red_y), (p11_green_x, p11_green_y)],
    [(p12_blue_x, p12_blue_y), (p12_gray_x, p12_gray_y), (p12_red_x, p12_red_y), (p12_green_x, p12_green_y)],
    [(p13_blue_x, p13_blue_y), (p13_gray_x, p13_gray_y), (p13_red_x, p13_red_y), (p13_green_x, p13_green_y)],
    [(p21_blue_x, p21_blue_y), (p21_gray_x, p21_gray_y), (p21_red_x, p21_red_y), (p21_green_x, p21_green_y)],
    [(iters_long, p22_blue), (iters_long, p22_gray), (iters_long, p22_red), (iters_long, p22_green)],
    [(iters_long, p23_blue), (iters_long, p23_gray), (iters_long, p23_red), (iters_long, p23_green)],
    [(iters_long, p31_blue), (iters_long, p31_gray), (iters_long, p31_red), (iters_long, p31_green)],
    [(iters_long, p32_blue), (iters_long, p32_gray), (iters_long, p32_red), (iters_long, p32_green)],
    [(iters_long, p33_blue), (iters_long, p33_gray), (iters_long, p33_red), (iters_long, p33_green)],
]

fig = go.Figure()
layout = dict(width=W, height=H, margin=dict(l=0, r=0, t=0, b=0),
              paper_bgcolor="white", plot_bgcolor="white", showlegend=False,
              font=dict(family=FONT, color="black"), annotations=[], shapes=[])


def legend_glyph(s, cx, cy, color):
    """Small marker glyph for the per-panel key (paper coordinates)."""
    ln = dict(color=color, width=0.8)
    if s == 0:
        r = 2.6
        return dict(type="circle", xref="paper", yref="paper", x0=fx(cx - r), x1=fx(cx + r),
                    y0=fy(cy + r), y1=fy(cy - r), line=ln, fillcolor="rgba(0,0,0,0)")
    if s == 1:
        r = 2.2
        return dict(type="rect", xref="paper", yref="paper", x0=fx(cx - r), x1=fx(cx + r),
                    y0=fy(cy + r), y1=fy(cy - r), line=ln, fillcolor="rgba(0,0,0,0)")
    if s == 2:
        r = 2.2
        p = "M %f %f L %f %f M %f %f L %f %f" % (fx(cx - r), fy(cy - r), fx(cx + r), fy(cy + r),
                                                 fx(cx - r), fy(cy + r), fx(cx + r), fy(cy - r))
        return dict(type="path", xref="paper", yref="paper", path=p, line=ln)
    p = "M %f %f L %f %f L %f %f Z" % (fx(cx), fy(cy - 3), fx(cx + 3), fy(cy + 2.2), fx(cx - 3), fy(cy + 2.2))
    return dict(type="path", xref="paper", yref="paper", path=p, line=ln, fillcolor="rgba(0,0,0,0)")


for k in range(9):
    r, c = divmod(k, 3)
    sfx = "" if k == 0 else str(k + 1)
    x0, x1 = COL_X[c]
    yt, yb = ROW_Y[r]
    for s, (xs, ys) in enumerate(panels[k]):
        fig.add_trace(go.Scatter(
            x=xs, y=[10 ** v for v in ys], mode="lines+markers",
            name=series_names[s], xaxis="x" + sfx, yaxis="y" + sfx,
            line=dict(color=COLORS[s], width=0.8),
            marker=dict(symbol=SYMBOLS[s], size=SIZES[s], color=COLORS[s],
                        line=dict(color=COLORS[s], width=0.8)),
            hoverinfo="skip"))
    common = dict(showline=True, mirror="ticks", linecolor="#6a6a6a", linewidth=0.8,
                  ticks="inside", ticklen=3, tickwidth=0.6, tickcolor="#6a6a6a",
                  tickfont=dict(family=FONT, size=7.5, color="#4a4a4a"),
                  showgrid=False, zeroline=False)
    xa = dict(common, domain=[fx(x0), fx(x1)], anchor="y" + sfx, range=x_ranges[k])
    if x_ranges[k][1] >= 19000:
        xa.update(tickmode="array", tickvals=long_tick_vals, ticktext=long_tick_text)
    elif x_ranges[k][1] > 5000:
        xa.update(dtick=1000, tick0=0)
    else:
        xa.update(dtick=500, tick0=0)
    ya = dict(common, domain=[fy(yb), fy(yt)], anchor="x" + sfx, type="log", range=[-15, 8],
              tickmode="array", tickvals=y_tick_vals, ticktext=y_tick_text)
    layout["xaxis" + sfx] = xa
    layout["yaxis" + sfx] = ya

    # per-panel key (box, sample line + marker, label)
    if c < 2:
        lx1 = x1 - 6
        lx0 = lx1 - 110
    else:
        lx0 = 759
        lx1 = lx0 + 110
    ly0 = yt + 5
    ly1 = ly0 + 54
    layout["shapes"].append(dict(type="rect", xref="paper", yref="paper", x0=fx(lx0), x1=fx(lx1),
                                 y0=fy(ly1), y1=fy(ly0), fillcolor="white",
                                 line=dict(color="#303030", width=0.8), layer="above"))
    for s in range(4):
        cy = ly0 + 8 + 13 * s
        layout["shapes"].append(dict(type="line", xref="paper", yref="paper", x0=fx(lx0 + 2), x1=fx(lx0 + 22),
                                     y0=fy(cy), y1=fy(cy), line=dict(color=COLORS[s], width=0.8)))
        layout["shapes"].append(legend_glyph(s, lx0 + 12, cy, COLORS[s]))
        layout["annotations"].append(dict(
            text=series_names[s], xref="paper", yref="paper", x=fx(lx0 + 24.5), y=fy(cy),
            xanchor="left", yanchor="middle", showarrow=False,
            font=dict(family=FONT, size=9.7, color="black")))

    # panel title
    layout["annotations"].append(dict(
        text="<b>Group Size:  %s</b>" % group_sizes[r], xref="paper", yref="paper",
        x=fx(x0 + 114), y=fy(yt - 10), xanchor="center", yanchor="middle", showarrow=False,
        font=dict(family=FONT, size=13.5, color="black")))
    # x-axis title
    layout["annotations"].append(dict(
        text="<b>Iterations</b>", xref="paper", yref="paper",
        x=fx(x0 + 114), y=fy(yb + 20), xanchor="center", yanchor="middle", showarrow=False,
        font=dict(family=FONT, size=12.5, color="#222222")))
    # y-axis title
    layout["annotations"].append(dict(
        text="<b>Absolute Objective Value Error</b>", xref="paper", yref="paper",
        x=fx(x0 - 28.5), y=fy((yt + yb) / 2), xanchor="center", yanchor="middle",
        textangle=-90, showarrow=False, font=dict(family=FONT, size=12.2, color="#222222")))
    # x10^4 exponent label
    if x_ranges[k][1] >= 19000:
        ex_x = x1 if c < 2 else 872
        layout["annotations"].append(dict(
            text="×10<sup>4</sup>", xref="paper", yref="paper", x=fx(ex_x), y=fy(yb + 18),
            xanchor="right", yanchor="middle", showarrow=False,
            font=dict(family=FONT, size=7, color="#4a4a4a")))

# column headers
HEAD_CX = [151.5, 449, 747.5]
HEAD_SPAN = [(26, 277), (321.7, 576.7), (626, 869)]
for c in range(3):
    layout["annotations"].append(dict(
        text="<b>Dimension:</b> " + dimension_labels[c], xref="paper", yref="paper",
        x=fx(HEAD_CX[c]), y=fy(12), xanchor="center", yanchor="middle", showarrow=False,
        font=dict(family="DejaVu Serif, serif", size=18.5, color="black")))
    layout["shapes"].append(dict(
        type="line", xref="paper", yref="paper", x0=fx(HEAD_SPAN[c][0]), x1=fx(HEAD_SPAN[c][1]),
        y0=fy(24.5), y1=fy(24.5), line=dict(color="#707070", width=1.6)))

fig.update_layout(**layout)
fig.write_html("out.html")
